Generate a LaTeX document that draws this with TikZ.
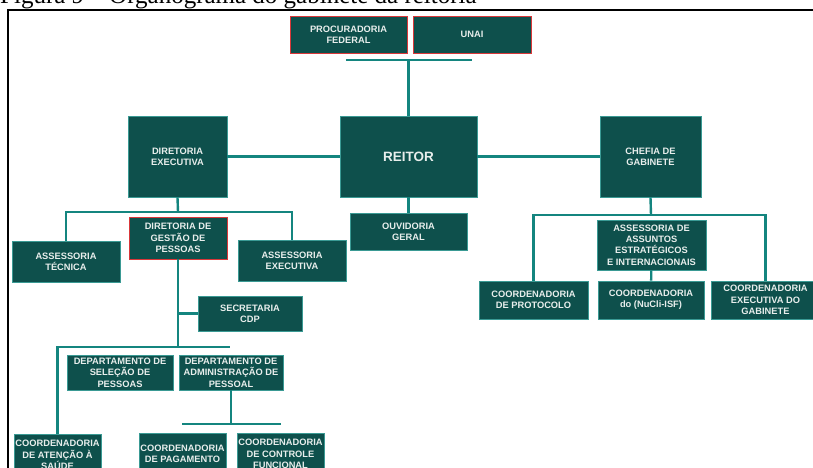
\documentclass[tikz,border=0pt]{standalone}
\usepackage{fontspec}
\setmainfont{Liberation Serif}
\newfontfamily\orgfont{Liberation Sans}
\usetikzlibrary{positioning}

\definecolor{orgfill}{HTML}{0E504C}
\definecolor{orgedge}{HTML}{3A9A94}
\definecolor{orgline}{HTML}{14857F}
\definecolor{orgtext}{HTML}{E8EEEC}
\definecolor{orgred}{HTML}{D9383A}

\begin{document}
\begin{tikzpicture}[
  x=1pt, y=-1pt,
  unit/.style={draw=orgedge, line width=0.9pt, fill=orgfill, text=orgtext, align=center, inner sep=0pt,
    font=\orgfont\bfseries\fontsize{9.3}{11.4}\selectfont},
  redunit/.style={unit, draw=orgred},
  link/.style={draw=orgline, line width=2.4pt}
]
\useasboundingbox (0,0) rectangle (813,468);

% moldura e titulo
\node[anchor=base west, inner sep=0pt, font=\fontsize{25}{28}\selectfont] (titulo) at (0,3.5) {Figura 9 -- Organograma do gabinete da reitoria};
\draw[black, line width=1.6pt] (8,475) -- (8,10) -- (820,10);

% topo
\node[redunit, minimum width=117, minimum height=37] (procur) at (348.5,34.5) {PROCURADORIA\\FEDERAL};
\node[redunit, minimum width=118, minimum height=37] (unai) at (472,34.5) {UNAI};
\node[unit, minimum width=137, minimum height=81, font=\orgfont\bfseries\fontsize{13.5}{16}\selectfont] (reitor) at (408.5,156.5) {REITOR};
\node[unit, minimum width=99, minimum height=81] (direx) at (177.5,156.5) {DIRETORIA\\EXECUTIVA};
\node[unit, minimum width=101, minimum height=81] (chefia) at (650.5,156.5) {CHEFIA DE\\GABINETE};
\node[unit, minimum width=117, minimum height=37] (ouvid) at (408.5,231.5) {OUVIDORIA\\GERAL};

% diretoria executiva
\node[unit, minimum width=108, minimum height=41] (asstec) at (66,261.5) {ASSESSORIA\\TÉCNICA};
\node[redunit, minimum width=98, minimum height=42] (dgp) at (178,238) {DIRETORIA DE\\GESTÃO DE\\PESSOAS};
\node[unit, minimum width=108, minimum height=41] (assexe) at (292,260.5) {ASSESSORIA\\EXECUTIVA};
\node[unit, minimum width=104, minimum height=35] (secr) at (250,313.5) {SECRETARIA\\CDP};
\node[unit, minimum width=106, minimum height=35] (depsel) at (120,372.5) {DEPARTAMENTO DE\\SELEÇÃO DE\\PESSOAS};
\node[unit, minimum width=104, minimum height=35] (depadm) at (231,372.5) {DEPARTAMENTO DE\\ADMINISTRAÇÃO DE\\PESSOAL};
\node[unit, minimum width=87, minimum height=42] (coordsau) at (57.5,455) {COORDENADORIA\\DE ATENÇÃO À\\SAÚDE};
\node[unit, minimum width=87, minimum height=42] (coordpag) at (182.5,454) {COORDENADORIA\\DE PAGAMENTO};
\node[unit, minimum width=87, minimum height=42] (coordctl) at (280.5,454) {COORDENADORIA\\DE CONTROLE\\FUNCIONAL};

% chefia de gabinete
\node[unit, minimum width=109, minimum height=50] (assaes) at (651.5,245) {ASSESSORIA DE\\ASSUNTOS\\ESTRATÉGICOS\\E INTERNACIONAIS};
\node[unit, minimum width=109, minimum height=38] (coordprot) at (533.5,300) {COORDENADORIA\\DE PROTOCOLO};
\node[unit, minimum width=106, minimum height=38] (coordnuc) at (651,300) {COORDENADORIA\\do (NuCli-ISF)};
\node[unit, minimum width=109, minimum height=38] (coordexg) at (765.5,300) {COORDENADORIA\\EXECUTIVA DO\\GABINETE};

% ligacoes
\coordinate (barL) at (346,60);
\coordinate (barR) at (472,60);
\draw[link] (barL) -- (barR);
\draw[link] (reitor.north) -- (reitor.north |- barL);
\draw[link] (direx) -- (reitor);
\draw[link] (reitor) -- (chefia);
\draw[link] (reitor) -- (ouvid);

\coordinate (dxbar) at (178,212);
\draw[link] (direx.south) -- (dxbar);
\draw[link] (asstec.north) |- (dxbar) -| (assexe.north);

\coordinate (dgpbar) at (178,347);
\coordinate (dgpbarR) at (230,347);
\draw[link] (dgp.south) -- (dgpbar);
\draw[link] (dgp.south |- secr.west) -- (secr.west);
\draw[link] (coordsau.north) |- (dgpbar) -- (dgpbarR);

\coordinate (admbarL) at (182,424);
\coordinate (admbarR) at (281,424);
\draw[link] (depadm.south) -- (depadm.south |- admbarL);
\draw[link] (admbarL) -- (admbarR);

\coordinate (chbar) at (651,215);
\draw[link] (chefia.south) -- (chbar);
\draw[link] (coordprot.north) |- (chbar) -| (coordexg.north);
\draw[link] (assaes) -- (coordnuc);
\end{tikzpicture}
\end{document}
